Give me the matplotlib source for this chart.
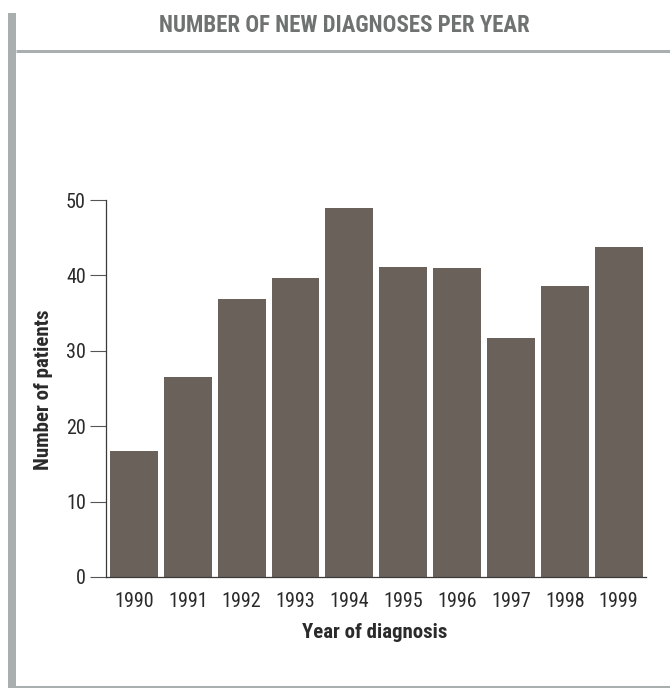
import matplotlib
matplotlib.use("Agg")
import matplotlib.pyplot as plt
from matplotlib.lines import Line2D

# Data
years = ["1990", "1991", "1992", "1993", "1994", "1995", "1996", "1997", "1998", "1999"]
patients = [16.7, 26.5, 36.9, 39.7, 49.0, 41.1, 41.0, 31.7, 38.6, 43.8]
y_ticks = [0, 10, 20, 30, 40, 50]

title = "NUMBER OF NEW DIAGNOSES PER YEAR"
x_label = "Year of diagnosis"
y_label = "Number of patients"

# Styling
FONT = ["Roboto Condensed", "Liberation Sans", "DejaVu Sans"]
BAR_COLOR = "#6b615b"
FRAME_GRAY = "#a9aeae"
TITLE_COLOR = "#6e7372"
TEXT_COLOR = "#2a2a2a"

plt.rcParams["font.family"] = FONT

W, H = 670, 688
fig = plt.figure(figsize=(W / 100, H / 100), dpi=100)
fig.patch.set_facecolor("white")

# Decorative frame: left bar, rule under the title, bottom rule
fig.add_artist(Line2D([12 / W, 12 / W], [1 - 13 / H, 1 - 688 / H], color=FRAME_GRAY,
                      linewidth=8 * 0.72, solid_capstyle="butt", transform=fig.transFigure))
fig.add_artist(Line2D([16 / W, 1.0], [1 - 50.5 / H, 1 - 50.5 / H], color=FRAME_GRAY,
                      linewidth=3 * 0.72, solid_capstyle="butt", transform=fig.transFigure))
fig.add_artist(Line2D([8 / W, 1.0], [1 - 686.5 / H, 1 - 686.5 / H], color=FRAME_GRAY,
                      linewidth=3 * 0.72, solid_capstyle="butt", transform=fig.transFigure))

fig.text(344.5 / W, 1 - 25 / H, title, ha="center", va="center", fontsize=16.5,
         fontweight="bold", color=TITLE_COLOR)

ax = fig.add_axes([106 / W, 1 - 577 / H, 540 / W, 377 / H])
x = list(range(len(years)))
ax.bar(x, patients, width=0.89, color=BAR_COLOR, zorder=2)

ax.set_xlim(-0.52, 9.51)
ax.set_ylim(0, 50)
ax.set_yticks(y_ticks)
ax.set_yticklabels([str(t) for t in y_ticks])
ax.set_xticks(x)
ax.set_xticklabels(years)

for side in ("top", "right"):
    ax.spines[side].set_visible(False)
for side in ("left", "bottom"):
    ax.spines[side].set_color("#3a3a3a")
    ax.spines[side].set_linewidth(0.9)

ax.tick_params(axis="y", length=11.5, width=0.8, color="#555555", pad=3,
               labelsize=14.5, labelcolor=TEXT_COLOR)
ax.tick_params(axis="x", length=0, pad=11, labelsize=14.5, labelcolor=TEXT_COLOR)

fig.text(375 / W, 1 - 632 / H, x_label, ha="center", va="center", fontsize=15,
         fontweight="bold", color=TEXT_COLOR)
fig.text(44 / W, 1 - 390 / H, y_label, ha="center", va="center", rotation=90,
         fontsize=15, fontweight="bold", color=TEXT_COLOR)

fig.savefig("out.png", dpi=100, facecolor="white")
